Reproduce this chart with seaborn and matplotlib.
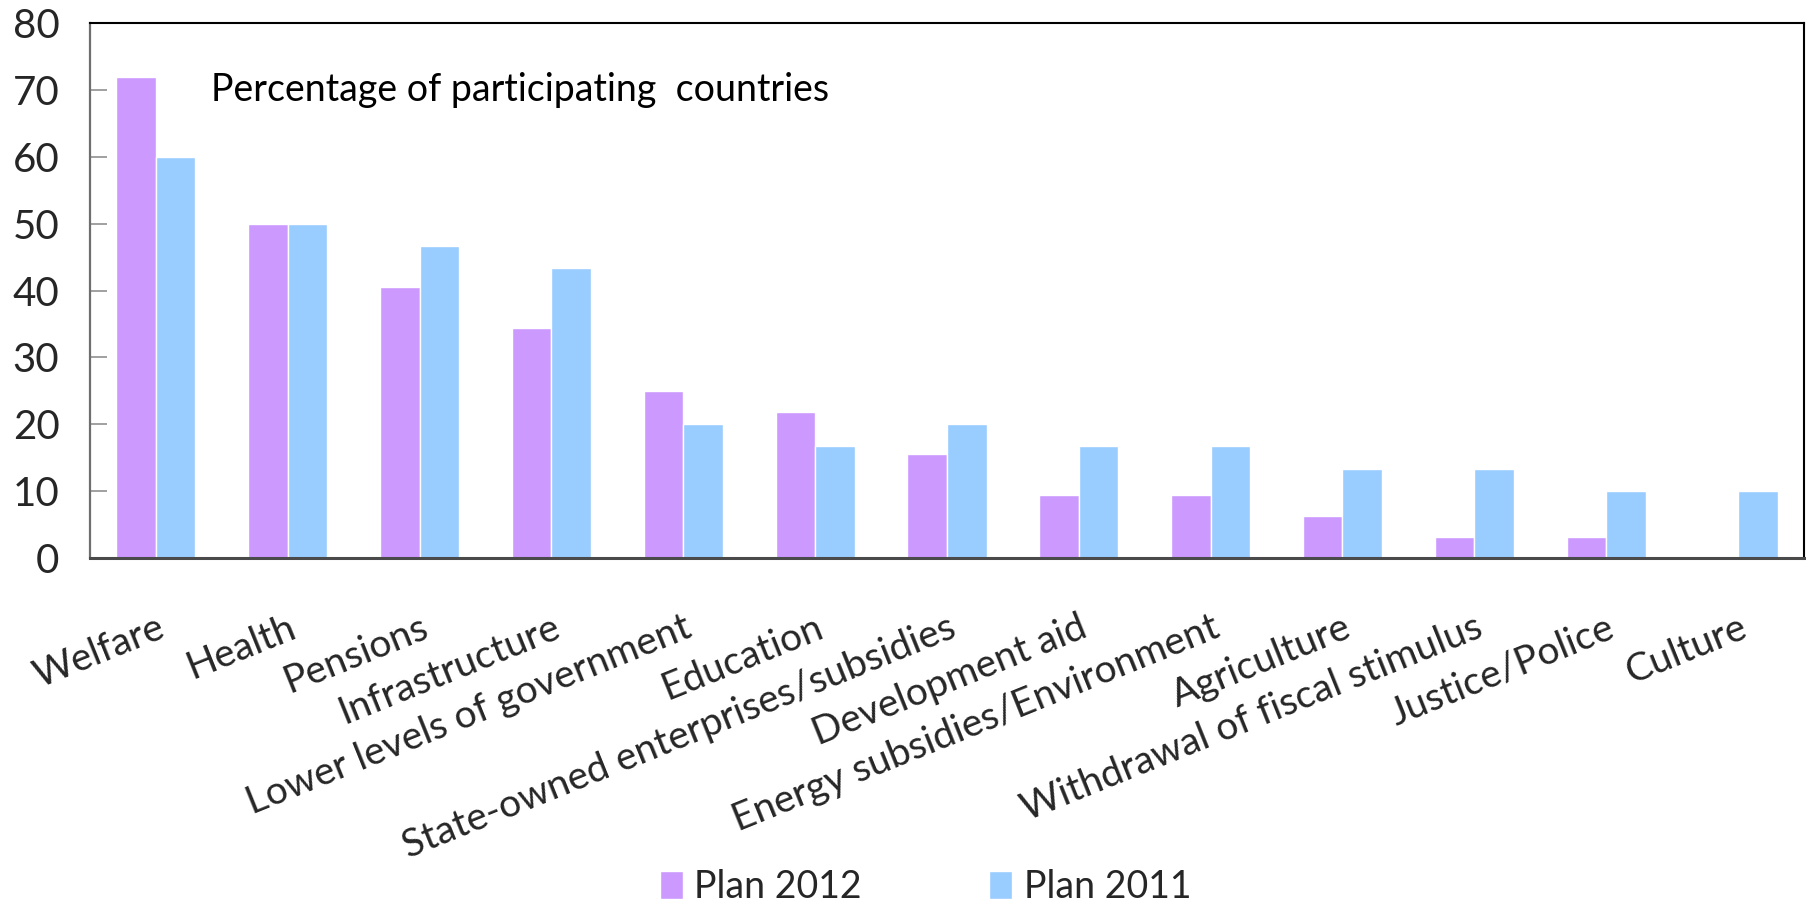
import matplotlib
matplotlib.use("Agg")
import matplotlib.pyplot as plt
import seaborn as sns
import pandas as pd
from matplotlib.ticker import FixedLocator

categories = [
    "Welfare", "Health", "Pensions", "Infrastructure",
    "Lower levels of government", "Education",
    "State-owned enterprises/subsidies", "Development aid",
    "Energy subsidies/Environment", "Agriculture",
    "Withdrawal of fiscal stimulus", "Justice/Police", "Culture",
]
plan_2012 = [71.9, 50.0, 40.6, 34.4, 25.0, 21.9, 15.6, 9.4, 9.4, 6.3, 3.1, 3.1, 0.0]
plan_2011 = [60.0, 50.0, 46.7, 43.3, 20.0, 16.7, 20.0, 16.7, 16.7, 13.3, 13.3, 10.0, 10.0]
series_names = ["Plan 2012", "Plan 2011"]
y_ticks = [0, 10, 20, 30, 40, 50, 60, 70, 80]

sns.set_theme(style="white")
plt.rcParams["font.family"] = ["Lato", "DejaVu Sans"]

df = pd.DataFrame({
    "category": categories * 2,
    "value": plan_2012 + plan_2011,
    "series": [series_names[0]] * len(categories) + [series_names[1]] * len(categories),
})

fig = plt.figure(figsize=(18.11, 9.09), dpi=100)
ax = fig.add_axes([0.0497, 0.3861, 0.9464, 0.5886])

sns.barplot(
    data=df, x="category", y="value", hue="series",
    order=categories, hue_order=series_names,
    palette=["#CC99FF", "#99CCFF"], width=0.6, gap=0,
    saturation=1, errorbar=None, ax=ax, legend=True,
)

ax.set_xlim(-0.5, len(categories) - 0.5)
ax.set_ylim(0, 80)
ax.set_yticks(y_ticks)
ax.set_yticklabels([str(v) for v in y_ticks], fontsize=29)
ax.set_xlabel("")
ax.set_ylabel("")

ax.set_xticks(range(len(categories)))
ax.set_xticklabels(categories, fontsize=28, rotation=22,
                   ha="right", va="top", rotation_mode="anchor")
ax.xaxis.set_minor_locator(FixedLocator([i - 0.5 for i in range(len(categories) + 1)]))
ax.tick_params(axis="x", which="major", length=0, pad=37)
ax.tick_params(axis="x", which="minor", length=10, width=1.2, color="#a0a0a0", direction="out")
ax.tick_params(axis="y", which="major", length=12, width=1.2, color="#909090",
               direction="in", pad=22, left=True)

for side in ["top", "right"]:
    ax.spines[side].set_color("black")
    ax.spines[side].set_linewidth(1.5)
ax.spines["left"].set_color("#6e6e6e")
ax.spines["left"].set_linewidth(1.6)
ax.spines["bottom"].set_color("#4a4a4a")
ax.spines["bottom"].set_linewidth(2.2)

ax.text(0.42, 70, "Percentage of participating  countries", fontsize=27,
        ha="left", va="center", color="black")

handles, labels = ax.get_legend_handles_labels()
ax.get_legend().remove()
fig.legend(handles, labels, loc="center", bbox_to_anchor=(0.511, 0.024),
           ncol=2, frameon=False, fontsize=27, handlelength=0.62, handleheight=0.75,
           handletextpad=0.3, columnspacing=3.4, borderpad=0.1)

fig.savefig("out.png", dpi=100)
